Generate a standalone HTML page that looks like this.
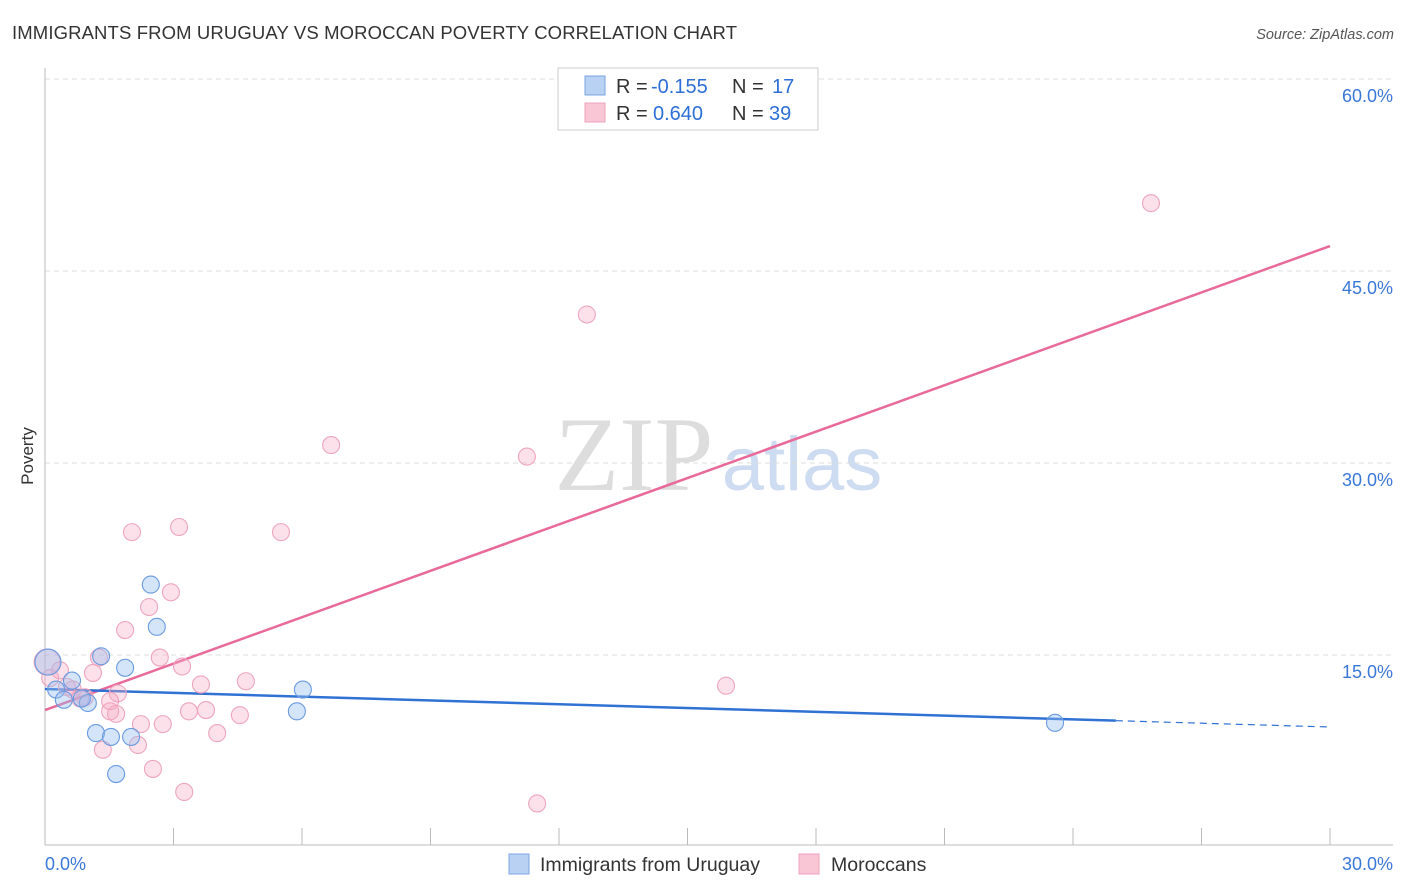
<!DOCTYPE html>
<html><head><meta charset="utf-8"><style>
body{margin:0;background:#fff;font-family:"Liberation Sans",sans-serif}
svg{display:block}
</style></head><body>
<svg id="chart" width="1406" height="892" xmlns="http://www.w3.org/2000/svg">
<text x="12" y="39" font-size="18.5" fill="#333" textLength="725">IMMIGRANTS FROM URUGUAY VS MOROCCAN POVERTY CORRELATION CHART</text>
<text x="1394" y="39" font-size="14.5" fill="#555" text-anchor="end" font-style="italic">Source: ZipAtlas.com</text>
<text transform="translate(33,456) rotate(-90)" font-size="17" fill="#333" text-anchor="middle">Poverty</text>
<g>
<text x="634" y="490" font-size="106" font-family="Liberation Serif,serif" fill="#ddd" text-anchor="middle">ZIP</text>
<text x="802" y="490" font-size="76" fill="#cddcf0" text-anchor="middle">atlas</text>
</g>
<g id="grid"></g><g id="axes"></g><g id="lines"></g><g id="pts"></g>
<g>
<rect x="558" y="68" width="260" height="62" fill="#fff" stroke="#ccc"/>
<rect x="585" y="76" width="20" height="19" fill="#b9d1f3" stroke="#7aa5e0"/>
<rect x="585" y="103" width="20" height="19" fill="#f8c6d5" stroke="#eea3bc"/>
<text x="616" y="93" font-size="20" fill="#333">R = <tspan fill="#2d6fd6" x="651">-0.155</tspan><tspan x="732">N = </tspan><tspan fill="#2d6fd6" x="772">17</tspan></text>
<text x="616" y="120" font-size="20" fill="#333">R = <tspan fill="#2d6fd6" x="653">0.640</tspan><tspan x="732">N = </tspan><tspan fill="#2d6fd6" x="769">39</tspan></text>
</g>
<g>
<rect x="509" y="854" width="20" height="20" fill="#b9d1f3" stroke="#7aa5e0"/>
<text x="540" y="871" font-size="19.5" fill="#333">Immigrants from Uruguay</text>
<rect x="799" y="854" width="20" height="20" fill="#f8c6d5" stroke="#eea3bc"/>
<text x="831" y="871" font-size="19.5" fill="#333">Moroccans</text>
</g>
</svg>
<script>
const yTicks=[15,30,45,60];
const yTickLabels=["15.0%","30.0%","45.0%","60.0%"];
const xTickLabels=["0.0%","30.0%"];
const uruguayX=[2.47,2.61,1.31,1.87,0.63,0.26,0.44,1.0,0.86,1.19,1.54,2.01,1.66,6.02,5.88,23.58,0.07];
const uruguayY=[20.5,17.2,14.9,14.0,13.0,12.3,11.5,11.25,11.6,8.9,8.6,8.6,5.7,12.3,10.6,9.7,14.45];
const uruguayR=[8.5,8.5,8.5,8.5,8.5,8.5,8.5,8.5,8.5,8.5,8.5,8.5,8.5,8.5,8.5,8.5,13];
const moroccoX=[25.82,12.65,6.68,11.25,3.13,2.03,5.51,2.94,2.43,1.87,1.26,2.68,3.2,0.05,0.35,1.12,3.64,4.69,15.9,0.65,0.51,1.7,0.93,1.52,1.66,3.36,3.76,4.55,2.24,2.75,4.02,2.17,1.35,2.52,3.25,11.49,0.12,0.82,1.52];
const moroccoY=[50.3,41.6,31.4,30.5,25.0,24.6,24.6,19.9,18.75,16.95,14.8,14.8,14.1,14.45,13.8,13.6,12.7,12.95,12.6,12.3,12.5,12.0,11.7,10.6,10.4,10.6,10.7,10.3,9.6,9.6,8.9,7.97,7.6,6.1,4.3,3.4,13.2,11.6,11.4];
const moroccoR=[8.5,8.5,8.5,8.5,8.5,8.5,8.5,8.5,8.5,8.5,8.5,8.5,8.5,13,8.5,8.5,8.5,8.5,8.5,8.5,8.5,8.5,8.5,8.5,8.5,8.5,8.5,8.5,8.5,8.5,8.5,8.5,8.5,8.5,8.5,8.5,8.5,8.5,8.5];
const uruguayTrend=[12.34,9.375];
const uruguaySolidEnd=25;
const moroccoTrend=[10.7,46.95];
const NS="http://www.w3.org/2000/svg";
const X=v=>45+v*(1285/30), Y=v=>847-v*12.8;
function mk(tag,attrs,parent){const e=document.createElementNS(NS,tag);for(const k in attrs)e.setAttribute(k,attrs[k]);document.getElementById(parent).appendChild(e);return e;}
yTicks.forEach((t,i)=>{
 const l=mk('line',{x1:45,x2:1393,y1:Y(t),y2:Y(t),stroke:'#ddd','stroke-dasharray':'5,4'},'grid');
 
 
 const tx=mk('text',{x:1393,y:Y(t)+23,'font-size':18,fill:'#3a78d8','text-anchor':'end'},'grid');
 tx.textContent=yTickLabels[i];
 
 
});
let a=mk('line',{x1:45,x2:45,y1:68,y2:845,stroke:'#bbb'},'axes');


a=mk('line',{x1:45,x2:1393,y1:845,y2:845,stroke:'#bbb'},'axes');


for(let i=0;i<=10;i++){
 const t=mk('line',{x1:X(i*3),x2:X(i*3),y1:828,y2:845,stroke:'#bbb'},'axes');
 
 
}
[[0,'start',45],[30,'end',1393]].forEach((d,i)=>{
 const t=mk('text',{x:d[2],y:870,'font-size':18,fill:'#3a78d8','text-anchor':d[1]},'axes');
 t.textContent=xTickLabels[i];
 
 
});
function pts(xs,ys,rs,fill,stroke,name){
 xs.forEach((x,i)=>{
  const c=mk('circle',{cx:X(x),cy:Y(ys[i]),r:rs[i],fill:fill,stroke:stroke,'stroke-width':1.1},'pts');
  
  
 });
}
pts(moroccoX,moroccoY,moroccoR,'rgba(245,170,195,0.35)','#eea5bd','moroccan-point');
pts(uruguayX,uruguayY,uruguayR,'rgba(150,190,240,0.4)','#6a9be0','uruguay-point');
const yAt=(tr,x)=>tr[0]+(tr[1]-tr[0])*x/30;
let l=mk('line',{x1:X(0),y1:Y(moroccoTrend[0]),x2:X(30),y2:Y(moroccoTrend[1]),stroke:'#e8699a','stroke-width':2.5},'lines');


l=mk('line',{x1:X(0),y1:Y(uruguayTrend[0]),x2:X(uruguaySolidEnd),y2:Y(yAt(uruguayTrend,uruguaySolidEnd)),stroke:'#2f72d4','stroke-width':2.5},'lines');


l=mk('line',{x1:X(uruguaySolidEnd),y1:Y(yAt(uruguayTrend,uruguaySolidEnd)),x2:X(30),y2:Y(uruguayTrend[1]),stroke:'#2f72d4','stroke-width':1.2,'stroke-dasharray':'7,5'},'lines');


</script>
</body></html>
